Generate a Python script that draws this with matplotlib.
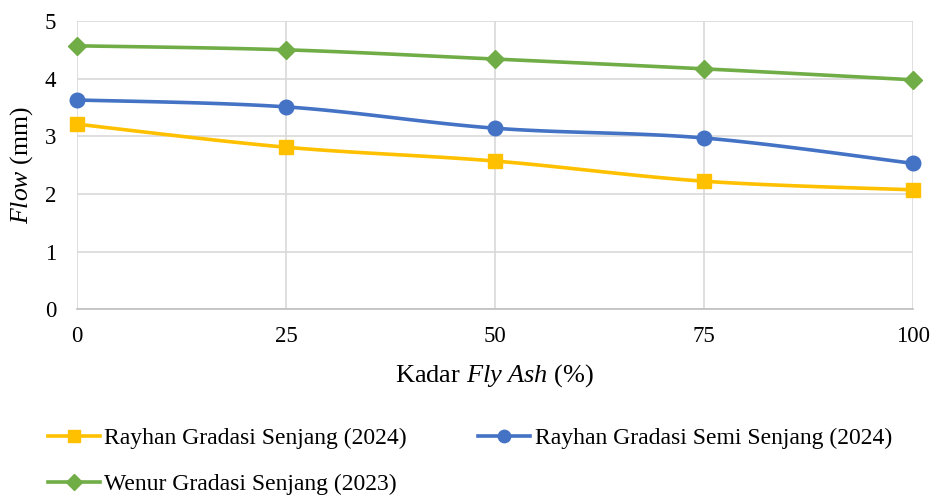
import numpy as np
import matplotlib
matplotlib.use("Agg")
import matplotlib.pyplot as plt

plt.rcParams['font.family'] = ['Liberation Serif', 'DejaVu Serif']
plt.rcParams['mathtext.fontset'] = 'custom'
plt.rcParams['mathtext.rm'] = 'Liberation Serif'
plt.rcParams['mathtext.it'] = 'Liberation Serif:italic'

kadar = [0, 25, 50, 75, 100]
rayhan_senjang = [3.21, 2.81, 2.57, 2.22, 2.07]
rayhan_semi = [3.63, 3.51, 3.14, 2.97, 2.53]
wenur_senjang = [4.57, 4.50, 4.34, 4.17, 3.98]
labels = ['Rayhan Gradasi Senjang (2024)', 'Rayhan Gradasi Semi Senjang (2024)',
          'Wenur Gradasi Senjang (2023)']
colors = ['#FFC000', '#4472C4', '#70AD47']
markers = ['s', 'o', 'D']
msizes = [10.5, 10.5, 9]


def smooth(x, y, n=30):
    x = np.asarray(x, float); y = np.asarray(y, float)
    px = np.concatenate([[x[0]], x, [x[-1]]])
    py = np.concatenate([[y[0]], y, [y[-1]]])
    xs, ys = [], []
    t = np.linspace(0, 1, n)
    for i in range(1, len(px) - 2):
        p0, p1, p2, p3 = (np.array([px[j], py[j]]) for j in (i - 1, i, i + 1, i + 2))
        c1 = p1 + (p2 - p0) / 6
        c2 = p2 - (p3 - p1) / 6
        b = ((1 - t) ** 3)[:, None] * p1 + (3 * (1 - t) ** 2 * t)[:, None] * c1 \
            + (3 * (1 - t) * t ** 2)[:, None] * c2 + (t ** 3)[:, None] * p2
        xs.extend(b[:, 0]); ys.extend(b[:, 1])
    return xs, ys


fig = plt.figure(figsize=(9.36, 4.97), dpi=100)
ax = fig.add_axes([0.0823, 0.378, 0.8931, 0.5797])

handles = []
for ys, c, m, ms, lab in zip([rayhan_senjang, rayhan_semi, wenur_senjang], colors, markers, msizes, labels):
    sx, sy = smooth(kadar, ys)
    ax.plot(sx, sy, color=c, lw=2.6, zorder=3, solid_capstyle='round')
    ax.plot(kadar, ys, linestyle='none', marker=m, ms=ms, color=c, zorder=4, clip_on=False)
    h, = ax.plot([], [], color=c, lw=2.6, marker=m, ms=ms * 0.85, label=lab)
    handles.append(h)

ax.set_xlim(0, 100)
ax.set_ylim(0, 5)
ax.set_xticks(kadar)
ax.set_yticks([0, 1, 2, 3, 4, 5])
ax.grid(True, color='#D9D9D9', lw=1.2)
ax.set_axisbelow(True)
for s in ['top', 'right', 'left']:
    ax.spines[s].set_visible(False)
ax.spines['bottom'].set_color('#BFBFBF')
ax.spines['bottom'].set_linewidth(1.2)
ax.tick_params(length=0, labelsize=16.5, colors='black')
ax.tick_params(axis='x', pad=12)
ax.tick_params(axis='y', pad=15)
ax.set_xlabel('Kadar $\\mathit{Fly\\ Ash}$ (%)', fontsize=19, labelpad=11)
ax.set_ylabel('$\\mathit{Flow}$ (mm)', fontsize=18.5, labelpad=7)

order = [handles[0], handles[2], handles[1]]
fig.legend(handles=order, loc='upper left', bbox_to_anchor=(0.051, 0.14), ncol=2,
           frameon=False, fontsize=17, handlelength=2.2, handletextpad=0.2,
           columnspacing=3.0, labelspacing=1.05, borderaxespad=0, borderpad=0.0)

fig.savefig('out.png', dpi=100, facecolor='white')
